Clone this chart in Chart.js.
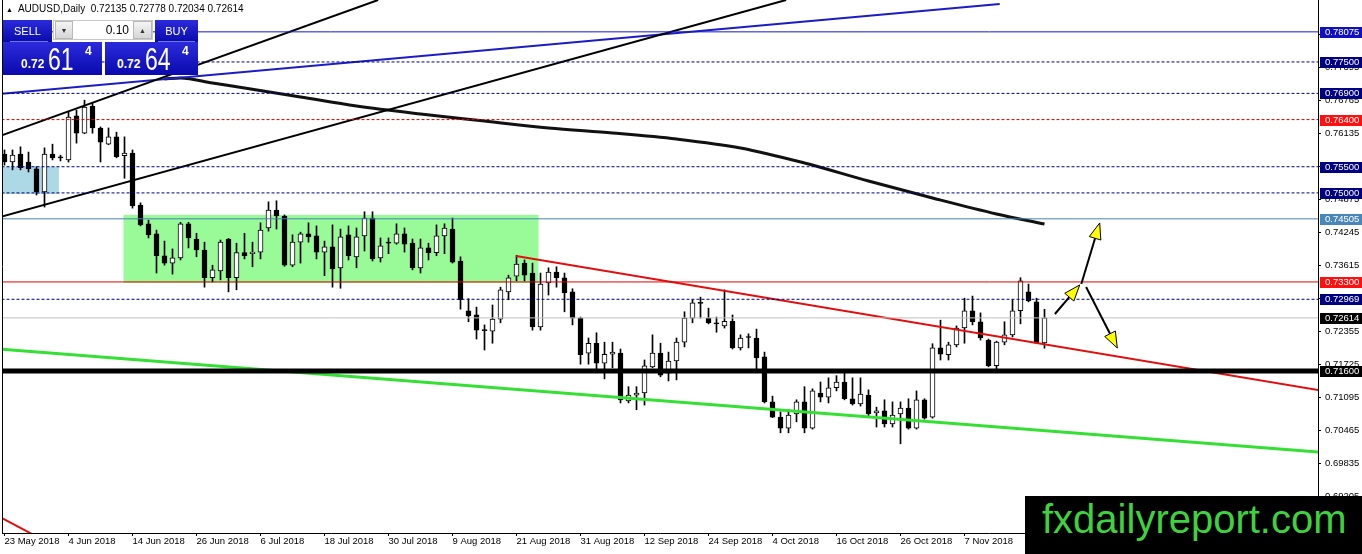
<!DOCTYPE html>
<html>
<head>
<meta charset="utf-8">
<script src="https://cdn.jsdelivr.net/npm/chart.js@4.4.0/dist/chart.umd.min.js"></script>
<style>
body{margin:0;background:#fff;}
#wrap{position:relative;width:1362px;height:554px;overflow:hidden;font-family:"Liberation Sans",Arial,sans-serif;}
#chart{position:absolute;left:0;top:0;}
.abs{position:absolute;white-space:nowrap;}
.blue{background:linear-gradient(#2b2bdc,#0a0aae);color:#fff;}
.btn{background:linear-gradient(#f4f4f4,#d6d6d6);border:1px solid #b8b8b8;box-sizing:border-box;font-size:7px;color:#333;text-align:center;line-height:18px;}
.big{font-size:32px;line-height:32px;transform:scaleX(0.72);transform-origin:left top;}
</style>
</head>
<body>
<div id="wrap">
  <canvas id="chart" width="1362" height="554"></canvas>

  <div class="abs" style="left:6px;top:3px;font-size:10px;line-height:12px;color:#000;"><span style="font-size:7px;">&#9650;</span>&nbsp; AUDUSD,Daily&nbsp;&nbsp;0.72135 0.72778 0.72034 0.72614</div>

  <!-- one click panel -->
  <div class="abs blue" style="left:3px;top:20px;width:49px;height:22px;font-size:11px;line-height:22px;text-align:center;">SELL</div>
  <div class="abs" style="left:10px;top:41px;width:38px;height:1px;background:#6f78e8;"></div>
  <div class="abs" style="left:53px;top:20px;width:100px;height:20px;background:#fff;border:1px solid #c8c8c8;box-sizing:border-box;"></div>
  <div class="abs btn" style="left:55px;top:21px;width:18px;height:18px;">&#9660;</div>
  <div class="abs" style="left:90px;top:23px;width:39px;font-size:12px;line-height:14px;text-align:right;color:#000;">0.10</div>
  <div class="abs btn" style="left:133px;top:21px;width:19px;height:18px;">&#9650;</div>
  <div class="abs blue" style="left:155px;top:20px;width:43px;height:22px;font-size:11px;line-height:22px;text-align:center;">BUY</div>
  <div class="abs" style="left:158px;top:41px;width:37px;height:1px;background:#6f78e8;"></div>

  <div class="abs blue" style="left:3px;top:42px;width:99px;height:33px;"></div>
  <div class="abs" style="left:21px;top:58px;font-size:12px;line-height:12px;font-weight:bold;color:#fff;">0.72</div>
  <div class="abs big" style="left:48px;top:43px;color:#fff;">61</div>
  <div class="abs" style="left:85px;top:45px;font-size:12px;line-height:12px;font-weight:bold;color:#fff;">4</div>

  <div class="abs blue" style="left:105px;top:42px;width:93px;height:33px;"></div>
  <div class="abs" style="left:117px;top:58px;font-size:12px;line-height:12px;font-weight:bold;color:#fff;">0.72</div>
  <div class="abs big" style="left:145px;top:43px;color:#fff;">64</div>
  <div class="abs" style="left:182px;top:45px;font-size:12px;line-height:12px;font-weight:bold;color:#fff;">4</div>

  <div class="abs" style="left:1025px;top:496px;width:337px;height:58px;background:#000;"></div>
  <div class="abs" style="left:1042px;top:499px;font-size:40px;line-height:40px;color:#3fd23f;">fxdailyreport.com</div>
</div>

<script>
// daily AUDUSD candles, bar 0 = 23 May 2018
var opens = [
0.7574,0.7559,0.7574,0.7559,0.7546,0.7502,0.7574,0.7568,0.7563,0.7647,
0.7614,0.7666,0.7624,0.7593,0.7607,0.7571,0.7576,0.7477,0.7441,0.7422,
0.7380,0.7366,0.7376,0.7441,0.7412,0.7391,0.7338,0.7351,0.7412,0.7338,
0.7386,0.7384,0.7387,0.7433,0.7467,0.7456,0.7362,0.7406,0.7422,0.7418,
0.7387,0.7397,0.7357,0.7420,0.7378,0.7418,0.7452,0.7376,0.7405,0.7404,
0.7422,0.7404,0.7357,0.7395,0.7386,0.7418,0.7431,0.7370,0.7275,0.7267,
0.7238,0.7236,0.7259,0.7311,0.7341,0.7366,0.7347,0.7244,0.7328,0.7349,
0.7338,0.7311,0.7261,0.7194,0.7213,0.7175,0.7192,0.7194,0.7103,0.7114,
0.7118,0.7168,0.7194,0.7156,0.7179,0.7215,0.7261,0.7290,0.7261,0.7251,
0.7246,0.7255,0.7204,0.7225,0.7223,0.7187,0.7101,0.7072,0.7051,0.7078,
0.7101,0.7051,0.7118,0.7110,0.7128,0.7139,0.7107,0.7097,0.7114,0.7080,
0.7084,0.7059,0.7078,0.7089,0.7051,0.7105,0.7072,0.7204,0.7191,0.7210,
0.7242,0.7275,0.7254,0.7219,0.7170,0.7215,0.7229,0.7275,0.7311,0.7292,
0.72135];
var highs = [
0.7582,0.7582,0.7588,0.7578,0.7550,0.7586,0.7593,0.7572,0.7654,0.7658,
0.7677,0.7672,0.7626,0.7624,0.7616,0.7607,0.7582,0.7481,0.7448,0.7429,
0.7408,0.7393,0.7444,0.7444,0.7423,0.7406,0.7362,0.7410,0.7413,0.7404,
0.7423,0.7406,0.7443,0.7483,0.7485,0.7458,0.7420,0.7425,0.7443,0.7437,
0.7408,0.7439,0.7431,0.7437,0.7433,0.7464,0.7464,0.7414,0.7414,0.7441,
0.7433,0.7412,0.7412,0.7404,0.7439,0.7441,0.7452,0.7378,0.7298,0.7282,
0.7248,0.7286,0.7320,0.7343,0.7381,0.7372,0.7366,0.7347,0.7357,0.7359,
0.7347,0.7317,0.7263,0.7223,0.7233,0.7215,0.7215,0.7202,0.7130,0.7130,
0.7181,0.7229,0.7213,0.7196,0.7223,0.7273,0.7296,0.7301,0.7280,0.7263,
0.7315,0.7267,0.7229,0.7231,0.7240,0.7196,0.7112,0.7082,0.7086,0.7105,
0.7130,0.7126,0.7139,0.7147,0.7151,0.7158,0.7147,0.7147,0.7124,0.7091,
0.7105,0.7101,0.7101,0.7107,0.7122,0.7107,0.7212,0.7257,0.7215,0.7246,
0.7299,0.7303,0.7271,0.7221,0.7217,0.7254,0.7296,0.7338,0.7326,0.7299,
0.72778];
var lows = [
0.7553,0.7544,0.7544,0.7540,0.7496,0.7473,0.7563,0.7561,0.7559,0.7595,
0.7613,0.7614,0.7559,0.7592,0.7567,0.7528,0.7471,0.7437,0.7414,0.7347,
0.7362,0.7345,0.7372,0.7395,0.7378,0.7320,0.7330,0.7334,0.7311,0.7315,
0.7374,0.7359,0.7374,0.7427,0.7431,0.7360,0.7359,0.7366,0.7406,0.7374,
0.7342,0.7320,0.7318,0.7372,0.7357,0.7389,0.7370,0.7368,0.7384,0.7402,
0.7387,0.7353,0.7347,0.7372,0.7380,0.7384,0.7366,0.7278,0.7254,0.7221,
0.7200,0.7213,0.7252,0.7296,0.7332,0.7332,0.7238,0.7238,0.7305,0.7320,
0.7273,0.7248,0.7173,0.7173,0.7162,0.7145,0.7166,0.7099,0.7099,0.7086,
0.7095,0.7166,0.7149,0.7141,0.7143,0.7206,0.7252,0.7261,0.7250,0.7234,
0.7242,0.7202,0.7200,0.7204,0.7162,0.7099,0.7071,0.7042,0.7042,0.7063,
0.7042,0.7049,0.7101,0.7099,0.7122,0.7105,0.7095,0.7093,0.7074,0.7053,
0.7053,0.7053,0.7021,0.7049,0.7049,0.7068,0.7070,0.7181,0.7181,0.7206,
0.7213,0.7248,0.7219,0.7168,0.7158,0.7210,0.7225,0.7250,0.7292,0.7212,
0.72034];
var closes = [
0.7559,0.7572,0.7548,0.7546,0.7502,0.7574,0.7567,0.7567,0.7645,0.7614,
0.7664,0.7624,0.7597,0.7607,0.7569,0.7576,0.7475,0.7439,0.7420,0.7380,
0.7366,0.7376,0.7441,0.7414,0.7391,0.7338,0.7353,0.7406,0.7338,0.7386,
0.7380,0.7387,0.7429,0.7467,0.7456,0.7362,0.7406,0.7422,0.7416,0.7387,
0.7397,0.7355,0.7416,0.7380,0.7416,0.7452,0.7374,0.7399,0.7404,0.7422,
0.7402,0.7357,0.7395,0.7386,0.7418,0.7433,0.7368,0.7296,0.7265,0.7238,
0.7237,0.7259,0.7315,0.7338,0.7364,0.7343,0.7244,0.7326,0.7349,0.7338,
0.7309,0.7261,0.7191,0.7213,0.7175,0.7192,0.7196,0.7105,0.7114,0.7118,
0.7170,0.7194,0.7152,0.7179,0.7215,0.7261,0.7290,0.7289,0.7252,0.7250,
0.7255,0.7204,0.7223,0.7224,0.7185,0.7101,0.7072,0.7051,0.7076,0.7101,
0.7051,0.7122,0.7110,0.7128,0.7139,0.7107,0.7097,0.7116,0.7078,0.7084,
0.7059,0.7076,0.7089,0.7051,0.7105,0.7070,0.7204,0.7192,0.7210,0.7242,
0.7275,0.7254,0.7223,0.7170,0.7215,0.7229,0.7275,0.7332,0.7294,0.7213,
0.72614];

// x axis date labels (bar index)
var dateIdx = [0,8,16,24,32,40,48,56,64,72,80,88,96,104,112,120];
var dateLabels = ["23 May 2018","4 Jun 2018","14 Jun 2018","26 Jun 2018","6 Jul 2018","18 Jul 2018",
  "30 Jul 2018","9 Aug 2018","21 Aug 2018","31 Aug 2018","12 Sep 2018","24 Sep 2018",
  "4 Oct 2018","16 Oct 2018","26 Oct 2018","7 Nov 2018"];
// price axis ticks
var priceTicks = [0.78025,0.77395,0.76765,0.76135,0.75505,0.74875,0.74245,0.73615,
  0.72985,0.72355,0.71725,0.71095,0.70465,0.69835,0.69205];

// horizontal levels
var levelVals  = [0.78075,0.77500,0.76900,0.76400,0.75500,0.75000,0.74505,0.73300,0.72969,0.72614,0.71600];
var levelLine  = ["#1818c8","#000080","#000080","#e00000","#000080","#000080","#4682b4","#e00000","#000080","#c0c0c0","#000000"];
var levelBox   = ["#1010c0","#000080","#000080","#ff1010","#000080","#000080","#4a86b8","#ff1010","#000080","#000000","#000000"];
var levelDash  = [false,true,true,true,true,true,false,false,true,false,false];
var levelWidth = [1,1,1,1,1,1,1,1,1,1,5];

// trend lines: [startIdx, startPrice, endIdx, endPrice]
var chanTop   = [-0.56, 0.76087, 46.7, 0.78683];
var chanBot   = [-0.56, 0.74540, 97.7, 0.78683];
var blueTrend = [-0.56, 0.76888, 124.4, 0.78607];
var redTrend  = [63.94, 0.73796, 164.2, 0.71238];
var redLow    = [-0.56, 0.68813, 6.94, 0.68202];
var greenTrend= [-0.56, 0.72020, 164.2, 0.70054];

// moving average read at a few bars
var maIdx  = [20,22,26,30,37,44,52,60,68,76,84,92,100,108,116,124,130];
var maVals = [0.77175,0.77194,0.77098,0.77003,0.76831,0.76659,0.76507,0.76373,0.76239,
  0.76144,0.76029,0.75858,0.75571,0.75227,0.74903,0.74598,0.74407];

// boxes: [fromIdx, toIdx, lowPrice, highPrice]
var greenBox = [14.875, 66.75, 0.7328, 0.7458];
var blueBox  = [-0.6, 6.8, 0.7498, 0.7550];

// arrows: [fromIdx, fromPrice, tipIdx, tipPrice]
var arrows = [
  [131.3, 0.72688, 134.4, 0.73242],
  [134.6, 0.73261, 136.9, 0.74426],
  [135.2, 0.73204, 139.1, 0.72039]
];

var xMin = -0.3125, xMax = 164.1875;
var yMin = 0.68507, yMax = 0.78683;

Chart.defaults.font.family = "'Liberation Sans', Arial, sans-serif";

function seg(a, color, width, dash){
  return {
    type: 'line', order: 0, clip: 0,
    data: [{x: a[0], y: a[1]}, {x: a[2], y: a[3]}],
    borderColor: color, borderWidth: width, borderDash: dash || [],
    pointRadius: 0, fill: false
  };
}

function noPad(s){ //axis labels must not push the plot area
  s.paddingTop = 0; s.paddingBottom = 0; s.paddingLeft = 0; s.paddingRight = 0;
}

var datasets = [];
var wickData = [], bodyData = [], bodyColors = [];
for(var i = 0; i < opens.length; i++){
  wickData.push({x: i, y: [lows[i], highs[i]]});
  bodyData.push({x: i, y: [opens[i], closes[i]]});
  bodyColors.push(closes[i] >= opens[i] ? "#ffffff" : "#000000");
}
datasets.push({type: 'bar', order: 6, grouped: false, barThickness: 1, data: wickData,
  backgroundColor: "#000", borderWidth: 0});
datasets.push({type: 'bar', order: 5, grouped: false, barThickness: 5, minBarLength: 1, data: bodyData,
  backgroundColor: bodyColors, borderColor: "#000", borderWidth: 1, borderSkipped: false});

for(var k = 0; k < levelVals.length; k++){
  datasets.push(seg([-1, levelVals[k], 166, levelVals[k]], levelLine[k], levelWidth[k], levelDash[k] ? [3,2] : null));
}
datasets.push(seg(chanTop, "#000", 2));
datasets.push(seg(chanBot, "#000", 2));
datasets.push(seg(blueTrend, "#1c1cc4", 2));
datasets.push(seg(redTrend, "#e01010", 2));
datasets.push(seg(redLow, "#e01010", 2));
datasets.push(seg(greenTrend, "#33e033", 3));

var maData = [];
for(var m = 0; m < maIdx.length; m++){ maData.push({x: maIdx[m], y: maVals[m]}); }
datasets.push({type: 'line', order: 0, clip: 0, data: maData, borderColor: "#111", borderWidth: 3,
  pointRadius: 0, cubicInterpolationMode: 'monotone', fill: false});

var mtPlugin = {
  id: 'mt4',
  beforeDatasetsDraw: function(chart){
    var c = chart.ctx, xs = chart.scales.x, ys = chart.scales.y, a = chart.chartArea;
    c.save();
    c.beginPath(); c.rect(a.left, a.top, a.right - a.left, a.bottom - a.top); c.clip();
    [[greenBox, "#98fb98"], [blueBox, "#add8e6"]].forEach(function(b){
      var r = b[0];
      var x1 = xs.getPixelForValue(r[0]), x2 = xs.getPixelForValue(r[1]);
      var y1 = ys.getPixelForValue(r[3]), y2 = ys.getPixelForValue(r[2]);
      c.fillStyle = b[1];
      c.fillRect(x1, y1, x2 - x1, y2 - y1);
    });
    c.restore();
  },
  afterDatasetsDraw: function(chart){
    var c = chart.ctx, xs = chart.scales.x, ys = chart.scales.y;
    c.save();
    arrows.forEach(function(ar){
      var x1 = xs.getPixelForValue(ar[0]), y1 = ys.getPixelForValue(ar[1]);
      var x2 = xs.getPixelForValue(ar[2]), y2 = ys.getPixelForValue(ar[3]);
      var ang = Math.atan2(y2 - y1, x2 - x1), len = 16, hw = 6;
      var bx = x2 - Math.cos(ang) * len, by = y2 - Math.sin(ang) * len;
      c.strokeStyle = "#000"; c.lineWidth = 2;
      c.beginPath(); c.moveTo(x1, y1); c.lineTo(bx, by); c.stroke();
      c.beginPath();
      c.moveTo(x2, y2);
      c.lineTo(bx + Math.sin(ang) * hw, by - Math.cos(ang) * hw);
      c.lineTo(bx - Math.sin(ang) * hw, by + Math.cos(ang) * hw);
      c.closePath();
      c.fillStyle = "#ffff00"; c.fill();
      c.lineWidth = 1; c.stroke();
    });
    c.restore();
  },
  afterDraw: function(chart){
    var c = chart.ctx, ys = chart.scales.y, a = chart.chartArea;
    c.save();
    c.strokeStyle = "#000"; c.lineWidth = 1;
    c.beginPath(); c.moveTo(a.left + 0.5, 0); c.lineTo(a.left + 0.5, a.bottom); c.stroke();
    c.font = "9.5px 'Liberation Sans', Arial, sans-serif";
    c.textBaseline = "middle";
    for(var k = 0; k < levelVals.length; k++){
      var y = Math.round(ys.getPixelForValue(levelVals[k]));
      c.fillStyle = levelBox[k];
      c.fillRect(a.right + 2, y - 5, 44, 11);
      c.fillStyle = "#fff";
      c.fillText(levelVals[k].toFixed(5), a.right + 7, y + 0.5);
    }
    c.restore();
  }
};

var chart = new Chart(document.getElementById("chart"), {
  type: 'bar',
  data: { datasets: datasets },
  options: {
    responsive: false,
    animation: false,
    layout: { padding: { left: 2, right: 0, top: 0, bottom: 0 } },
    plugins: { legend: { display: false }, tooltip: { enabled: false } },
    scales: {
      x: {
        type: 'linear', min: xMin, max: xMax, offset: false,
        grid: { offset: false, drawOnChartArea: false, tickLength: 3, color: "#000" },
        border: { color: "#000" },
        afterBuildTicks: function(s){ s.ticks = dateIdx.map(function(v){ return {value: v}; }); },
        afterFit: function(s){ s.height = 21; noPad(s); },
        ticks: {
          autoSkip: false, maxRotation: 0, align: 'start', padding: 0, color: "#000",
          font: { size: 9.5 },
          callback: function(v){ var n = dateIdx.indexOf(v); return n >= 0 ? dateLabels[n] : ""; }
        }
      },
      y: {
        position: 'right', min: yMin, max: yMax,
        grid: { drawOnChartArea: false, tickLength: 3, color: "#000" },
        border: { color: "#000" },
        afterBuildTicks: function(s){ s.ticks = priceTicks.map(function(v){ return {value: v}; }); },
        afterFit: function(s){ s.width = 44; noPad(s); },
        ticks: {
          autoSkip: false, padding: 4, color: "#000", font: { size: 9.5 },
          callback: function(v){ return Number(v).toFixed(5); }
        }
      }
    }
  },
  plugins: [mtPlugin]
});
</script>
</body>
</html>
